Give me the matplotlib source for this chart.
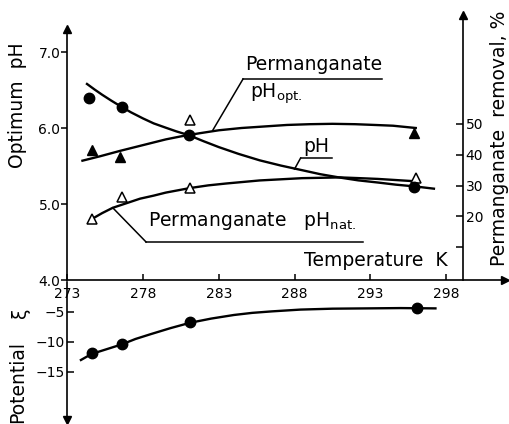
import numpy as np
import matplotlib.pyplot as plt

plt.rcParams['font.family'] = 'DejaVu Sans'
plt.rcParams['mathtext.default'] = 'regular'

# temperature axis, K
t_ticks = [273, 278, 283, 288, 293, 298]

# measured points
t_circ = [274.4, 276.6, 281.0, 295.9]
removal_circ = [58.4, 55.5, 46.4, 29.7]          # permanganate removal, %
t_opt_pts = [274.6, 276.5, 295.9]
ph_opt_pts = [5.71, 5.62, 5.93]                  # filled triangles
t_nat_pts = [274.6, 276.6, 281.1, 281.1, 296.0]
ph_nat_pts = [4.80, 5.09, 5.21, 6.10, 5.34]      # open triangles
t_zeta_pts = [274.6, 276.6, 281.1, 296.1]
zeta_pts = [-11.8, -10.3, -6.7, -4.3]

# curves
t_opt_line = [274.0, 275.2, 276.5, 277.5, 278.5, 279.5, 280.5, 281.7, 283.0, 284.5, 286.0,
              287.5, 289.0, 290.5, 292.0, 293.3, 294.5, 296.0]
ph_opt_line = [5.57, 5.63, 5.70, 5.75, 5.80, 5.85, 5.89, 5.93, 5.97, 6.00, 6.02,
               6.04, 6.05, 6.055, 6.05, 6.04, 6.03, 6.00]
t_nat_line = [274.6, 275.3, 276.0, 276.9, 277.8, 278.7, 279.5, 280.3, 281.1, 282.3, 283.5,
              284.6, 285.7, 287.1, 288.5, 289.8, 291.0, 292.3, 293.5, 294.7, 295.9]
ph_nat_line = [4.80, 4.88, 4.95, 5.01, 5.07, 5.11, 5.15, 5.18, 5.21, 5.245, 5.27,
               5.29, 5.31, 5.325, 5.34, 5.345, 5.35, 5.34, 5.33, 5.315, 5.30]
t_rem_line = [274.3, 274.8, 275.3, 275.9, 276.5, 277.2, 278.0, 278.7, 279.5, 280.2, 281.0,
              282.0, 283.0, 284.3, 285.7, 287.1, 288.5, 289.7, 291.0, 292.2, 293.5,
              294.7, 296.0, 297.2]
rem_line = [63.0, 61.2, 59.5, 57.6, 55.8, 53.8, 51.8, 50.2, 48.8, 47.6, 46.4,
            44.4, 42.5, 40.3, 38.2, 36.5, 35.0, 33.7, 32.6, 31.7, 31.0,
            30.3, 29.7, 29.0]
t_zeta_line = [273.9, 274.6, 275.6, 276.6, 277.5, 278.5, 279.8, 281.1, 282.5, 284.0, 285.2,
               286.5, 288.4, 290.5, 292.8, 295.0, 297.3]
zeta_line = [-13.0, -12.0, -11.2, -10.4, -9.5, -8.7, -7.7, -6.8, -6.1, -5.5, -5.15,
             -4.9, -4.6, -4.45, -4.4, -4.35, -4.4]

W, H = 510, 424
fig = plt.figure(figsize=(W / 100, H / 100), dpi=100)
px = 15.15  # pixels per K
xmin = 273
xmax = 273 + (505 - 67.3) / px
ax = fig.add_axes([67.3 / W, (H - 280) / H, 437.7 / W, 268 / H])
ax3 = fig.add_axes([67.3 / W, 0, 437.7 / W, 144 / H], sharex=ax)
ax.set_xlim(xmin, xmax)
ph_top = 4 + 268 / 76
ax.set_ylim(4, ph_top)

lw = 1.7
k = 'black'

# main axes
for s in ['top', 'right']:
    ax.spines[s].set_visible(False)
ax.spines['left'].set_bounds(4, 7.25)
ax.spines['left'].set_linewidth(1.2)
ax.spines['bottom'].set_linewidth(1.2)
ax.plot([273], [7.3], marker='^', color=k, ms=6, clip_on=False)
ax.plot([xmax], [4], marker='>', color=k, ms=6, clip_on=False)
ax.set_yticks([4, 5, 6, 7])
ax.set_yticklabels(['4.0', '5.0', '6.0', '7.0'])
ax.set_xticks(t_ticks)
ax.tick_params(axis='y', direction='out', length=4, width=1.1, labelsize=10, pad=1)
ax.tick_params(axis='x', direction='in', length=4, width=1.1, labelsize=10, pad=5)
ax.patch.set_visible(False)

# removal axis on the right
ax2 = ax.twinx()
r_per_ph = 76 / 3.08
ax2.set_ylim(-0.65, (ph_top - 4) * r_per_ph - 0.65)
for s in ['top', 'left', 'bottom']:
    ax2.spines[s].set_visible(False)
x_right = 273 + (463 - 67.3) / px
ax2.spines['right'].set_position(('data', x_right))
ax2.spines['right'].set_bounds(-0.65, 84.5)
ax2.spines['right'].set_linewidth(1.2)
ax2.plot([x_right], [85.5], marker='^', color=k, ms=6, clip_on=False)
ax2.set_yticks([10, 20, 30, 40, 50])
ax2.set_yticklabels(['', '20', '30', '40', '50'])
ax2.tick_params(axis='y', direction='in', length=5, width=1.1, labelsize=10, pad=2)

# curves
ax.plot(t_opt_line, ph_opt_line, color=k, lw=lw)
ax.plot(t_nat_line, ph_nat_line, color=k, lw=lw)
ax2.plot(t_rem_line, rem_line, color=k, lw=lw)
ax.plot(t_opt_pts, ph_opt_pts, '^', color=k, ms=7, ls='none')
ax.plot(t_nat_pts, ph_nat_pts, '^', mfc='white', mec=k, mew=1.1, ms=6.5, ls='none')
ax2.plot(t_circ, removal_circ, 'o', color=k, ms=7.5, ls='none')

# labels with leader lines
fs = 13.5
ax.text(284.75, 6.84, 'Permanganate', fontsize=fs, va='center')
ax.plot([284.6, 293.8], [6.645, 6.645], color=k, lw=1.1)
ax.plot([284.6, 282.6], [6.645, 5.97], color=k, lw=1.1)
ax.text(285.05, 6.45, 'pH$_{opt.}$', fontsize=fs, va='center')

ax.text(288.6, 5.76, 'pH', fontsize=fs, va='center')
ax.plot([288.4, 290.5], [5.605, 5.605], color=k, lw=1.1)
ax.plot([288.4, 288.0], [5.605, 5.46], color=k, lw=1.1)

ax.text(278.35, 4.77, 'Permanganate   pH$_{nat.}$', fontsize=fs, va='center')
ax.plot([278.2, 292.5], [4.5, 4.5], color=k, lw=1.1)
ax.plot([278.2, 276.0], [4.5, 4.95], color=k, lw=1.1)

ax.text(298.1, 4.26, 'Temperature  K', fontsize=fs, va='center', ha='right')

fig.text(18 / W, 1 - 105 / H, 'Optimum  pH', rotation=90, fontsize=fs, ha='center', va='center')
fig.text(500 / W, 1 - 138 / H, 'Permanganate  removal, %', rotation=90, fontsize=fs,
         ha='center', va='center')

# potential panel
ax3.set_ylim(0.33 - 144 / 6, 0.33)
for s in ['top', 'right', 'bottom']:
    ax3.spines[s].set_visible(False)
ax3.spines['left'].set_bounds(-23.0, 0)
ax3.spines['left'].set_linewidth(1.2)
ax3.plot([273], [-23.0], marker='v', color=k, ms=6, clip_on=False)
ax3.set_yticks([-5, -10, -15])
ax3.tick_params(axis='y', direction='in', length=5, width=1.1, labelsize=10, pad=2)
ax3.tick_params(axis='x', bottom=False, labelbottom=False)
ax3.patch.set_visible(False)
ax3.plot(t_zeta_line, zeta_line, color=k, lw=lw)
ax3.plot(t_zeta_pts, zeta_pts, 'o', color=k, ms=7.5, ls='none')
fig.text(18 / W, 1 - 382 / H, 'Potential', rotation=90, fontsize=fs, ha='center', va='center')
fig.text(21 / W, 1 - 313 / H, 'ξ', rotation=90, fontsize=fs, ha='center', va='center')

fig.savefig('out.png', dpi=100)
